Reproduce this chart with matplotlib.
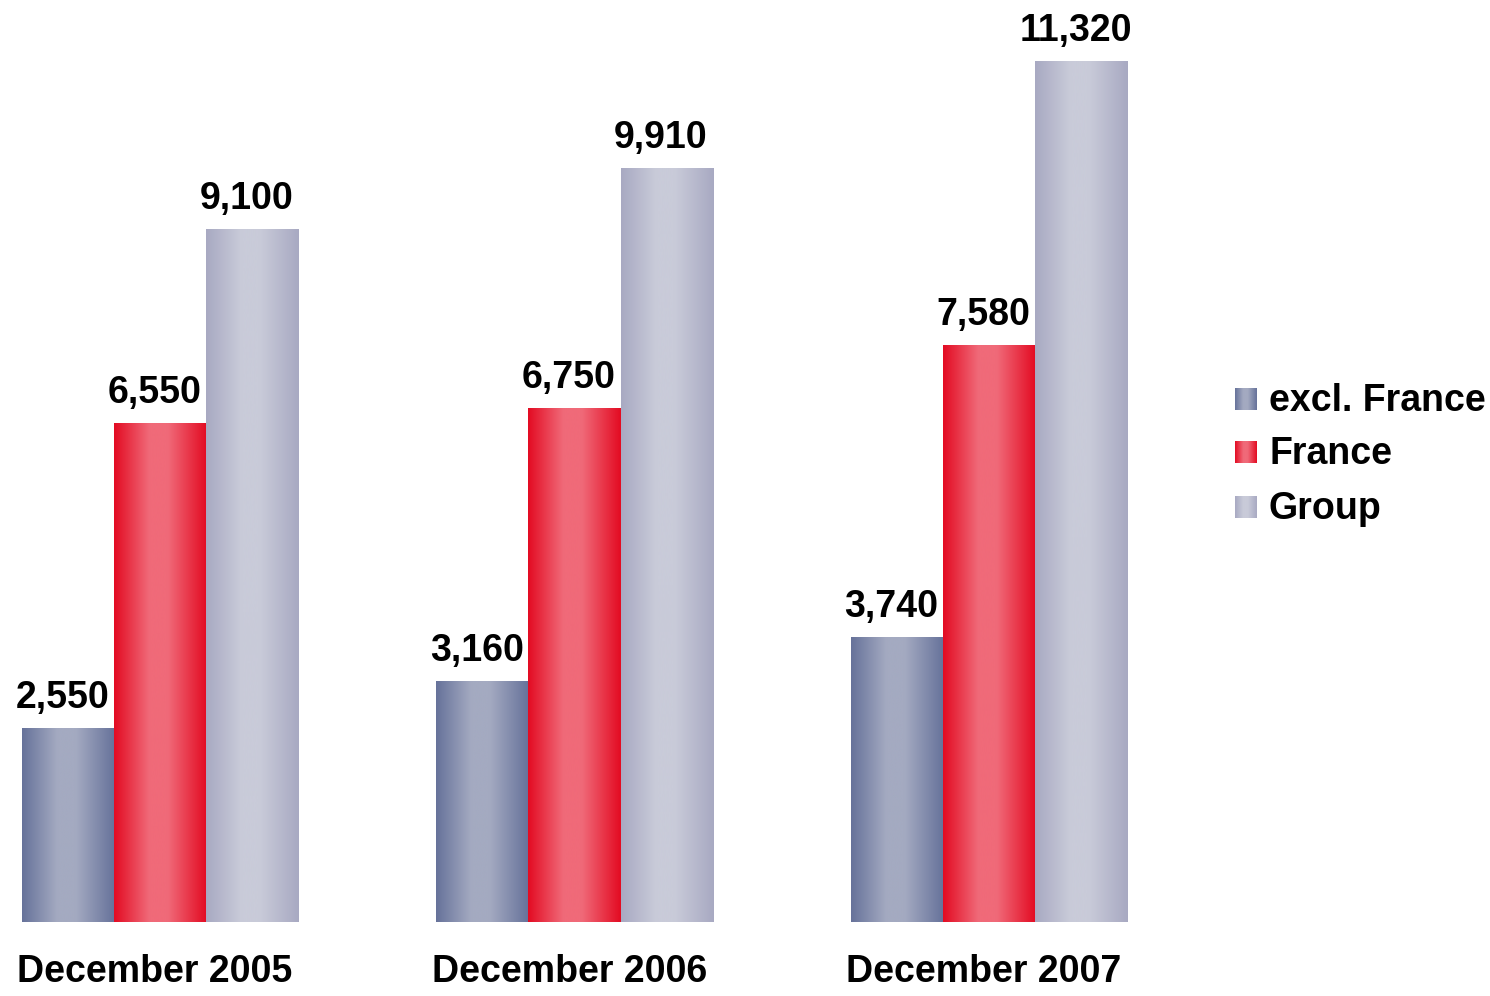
import numpy as np
import matplotlib
matplotlib.use("Agg")
import matplotlib.pyplot as plt
from matplotlib.colors import LinearSegmentedColormap

plt.rcParams["font.family"] = ["Liberation Sans", "DejaVu Sans"]
plt.rcParams["font.weight"] = "bold"

periods = ["December 2005", "December 2006", "December 2007"]
series = ["excl. France", "France", "Group"]
excl_france = [2550, 3160, 3740]
france = [6550, 6750, 7580]
group = [9100, 9910, 11320]

# edge colour, highlight colour for each series gradient
edge_cols = ["#66729a", "#e30b22", "#a8a9c2"]
mid_cols = ["#a4aac1", "#f06a79", "#c9cbd9"]


def grad_cmap(edge, mid):
    return LinearSegmentedColormap.from_list(
        "g", [(0, edge), (0.38, mid), (0.58, mid), (1, edge)])


grad = np.linspace(0, 1, 256).reshape(1, -1)
fs = 27

fig = plt.figure(figsize=(14.9, 9.96), dpi=100)
ax = fig.add_axes([0, 74 / 996, 1, 922 / 996])
for s in ax.spines.values():
    s.set_visible(False)
ax.set_yticks([])

x = np.arange(len(periods))
w = 0.222
for i, (name, vals) in enumerate(zip(series, [excl_france, france, group])):
    cmap = grad_cmap(edge_cols[i], mid_cols[i])
    bars = ax.bar(x + (i - 1) * w, vals, w, color="none", linewidth=0)
    for b, v in zip(bars, vals):
        x0, wd, h = b.get_x(), b.get_width(), b.get_height()
        ax.imshow(grad, cmap=cmap, aspect="auto", extent=(x0, x0 + wd, 0, h),
                  interpolation="bicubic", zorder=2)
        ax.annotate(f"{v:,}", (x0 + wd / 2, h), xytext=(-4, 9),
                    textcoords="offset points", ha="center", va="bottom",
                    fontsize=fs, fontweight="bold", color="black")

ax.set_xlim(-160 / 414.5, (1490 - 160) / 414.5)
ax.set_ylim(0, 922 * 13.15)
ax.set_xticks(x - 0.012)
ax.set_xticklabels(periods, fontsize=fs, fontweight="bold")
ax.tick_params(axis="x", length=0, pad=23)

# legend with gradient swatches
rows = [401, 454, 509]
for i, name in enumerate(series):
    yc = rows[i]
    sw = fig.add_axes([1235 / 1490, 1 - (yc + 9) / 996, 22 / 1490, 22 / 996])
    sw.imshow(grad, cmap=grad_cmap(edge_cols[i], mid_cols[i]), aspect="auto",
              interpolation="bicubic")
    sw.axis("off")
    fig.text(1269 / 1490, 1 - yc / 996, name, fontsize=fs, fontweight="bold",
             va="center", ha="left")

fig.savefig("out.png", dpi=100, facecolor="white")
